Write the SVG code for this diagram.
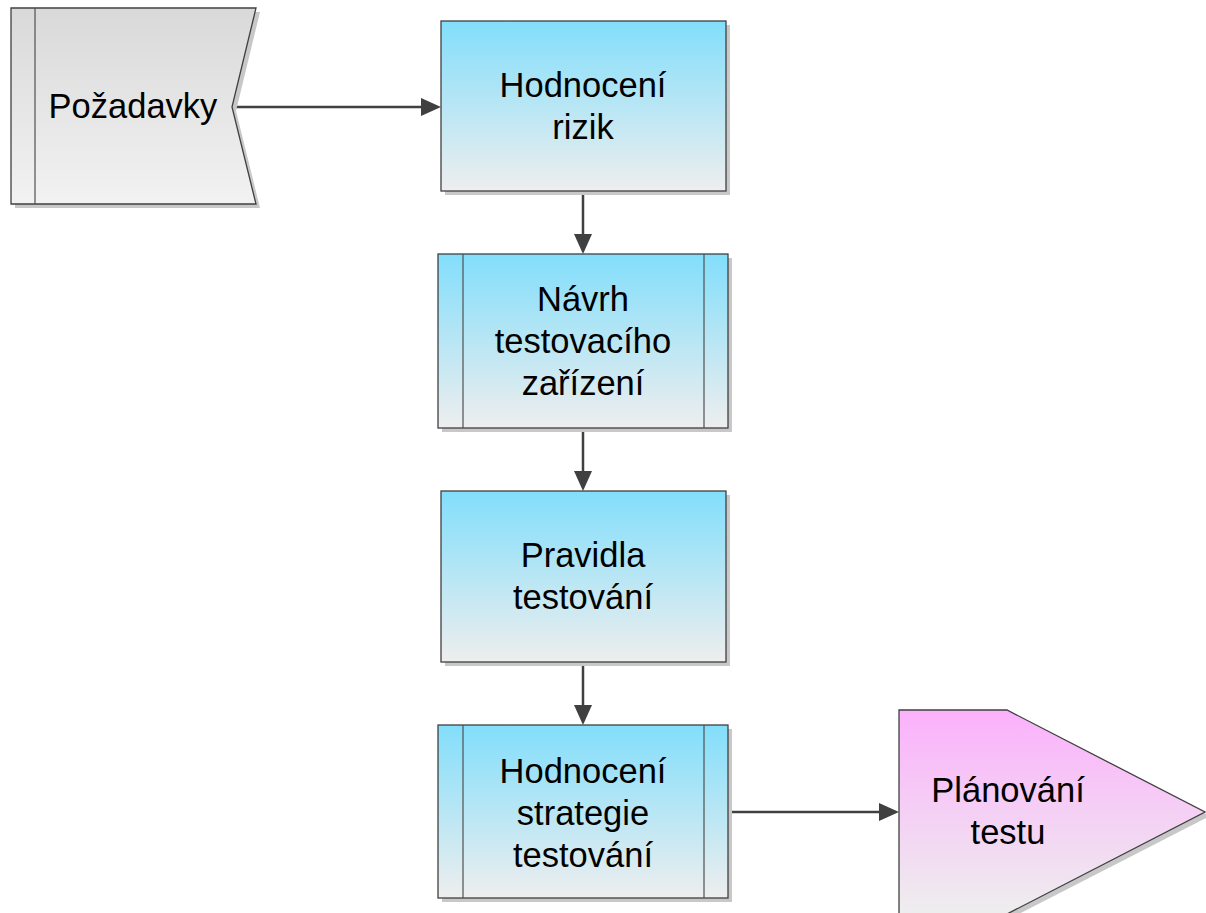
<svg xmlns="http://www.w3.org/2000/svg" width="1206" height="913" viewBox="0 0 1206 913">
  <style>
    .lbl { font-family: "Liberation Sans", Arial, sans-serif; font-size: 34.5px; fill: #000; text-anchor: middle; }
    .box { stroke: #404040; stroke-width: 1.3; }
    .shadow { fill: #c8c8c8; }
    .line { stroke: #404040; stroke-width: 2.5; fill: none; }
    .head { fill: #404040; }
    .inner { stroke: #505050; stroke-width: 1.2; }
  </style>
  <defs>
    <linearGradient id="blue" x1="0" y1="0" x2="0" y2="1">
      <stop offset="0" stop-color="#82defb"/>
      <stop offset="1" stop-color="#eeeeee"/>
    </linearGradient>
    <linearGradient id="grey" x1="0" y1="0" x2="0" y2="1">
      <stop offset="0" stop-color="#d9d9d9"/>
      <stop offset="1" stop-color="#f2f2f2"/>
    </linearGradient>
    <linearGradient id="pink" x1="0" y1="0" x2="0" y2="1">
      <stop offset="0" stop-color="#fbb1fb"/>
      <stop offset="1" stop-color="#eeeeee"/>
    </linearGradient>
  </defs>

  <!-- connectors -->
  <g id="connectors">
    <line class="line" x1="233" y1="107" x2="424" y2="107"/>
    <path class="head" d="M421,98 L441,107 L421,116 z"/>
    <line class="line" x1="583" y1="191" x2="583" y2="236"/>
    <path class="head" d="M574,234 L583,254 L592,234 z"/>
    <line class="line" x1="583" y1="428" x2="583" y2="473"/>
    <path class="head" d="M574,471 L583,491 L592,471 z"/>
    <line class="line" x1="583" y1="662" x2="583" y2="707"/>
    <path class="head" d="M574,705 L583,725 L592,705 z"/>
    <line class="line" x1="728" y1="812" x2="882" y2="812"/>
    <path class="head" d="M879,803 L899,812 L879,821 z"/>
  </g>

  <!-- requirements input -->
  <g id="pozadavky">
    <polygon class="shadow" points="15,12 260,12 236,111 260,208 15,208"/>
    <polygon class="box" fill="url(#grey)" points="11,8 256,8 232,107 256,204 11,204"/>
    <line class="inner" x1="35" y1="8" x2="35" y2="204"/>
    <text class="lbl" x="133" y="118">Požadavky</text>
  </g>

  <g id="hodnoceni-rizik">
    <rect class="shadow" x="445" y="25" width="285" height="170"/>
    <rect class="box" fill="url(#blue)" x="441" y="21" width="285" height="170"/>
    <text class="lbl" x="583" y="97">Hodnocení</text>
    <text class="lbl" x="583" y="139">rizik</text>
  </g>

  <g id="navrh-zarizeni">
    <rect class="shadow" x="442" y="258" width="290" height="174"/>
    <rect class="box" fill="url(#blue)" x="438" y="254" width="290" height="174"/>
    <line class="inner" x1="463" y1="254" x2="463" y2="428"/>
    <line class="inner" x1="704" y1="254" x2="704" y2="428"/>
    <text class="lbl" x="583" y="311">Návrh</text>
    <text class="lbl" x="583" y="353">testovacího</text>
    <text class="lbl" x="583" y="395">zařízení</text>
  </g>

  <g id="pravidla-testovani">
    <rect class="shadow" x="445" y="495" width="285" height="171"/>
    <rect class="box" fill="url(#blue)" x="441" y="491" width="285" height="171"/>
    <text class="lbl" x="583" y="567">Pravidla</text>
    <text class="lbl" x="583" y="609">testování</text>
  </g>

  <g id="hodnoceni-strategie">
    <rect class="shadow" x="442" y="729" width="290" height="173"/>
    <rect class="box" fill="url(#blue)" x="438" y="725" width="290" height="173"/>
    <line class="inner" x1="463" y1="725" x2="463" y2="898"/>
    <line class="inner" x1="704" y1="725" x2="704" y2="898"/>
    <text class="lbl" x="583" y="783">Hodnocení</text>
    <text class="lbl" x="583" y="825">strategie</text>
    <text class="lbl" x="583" y="867">testování</text>
  </g>

  <!-- test planning output -->
  <g id="planovani-testu">
    <polygon class="shadow" points="903,714 1011,714 1210,816 1011,918 903,918"/>
    <polygon class="box" fill="url(#pink)" points="899,710 1007,710 1205,812 1007,914 899,914"/>
    <text class="lbl" x="1008" y="802">Plánování</text>
    <text class="lbl" x="1008" y="844">testu</text>
  </g>
</svg>
